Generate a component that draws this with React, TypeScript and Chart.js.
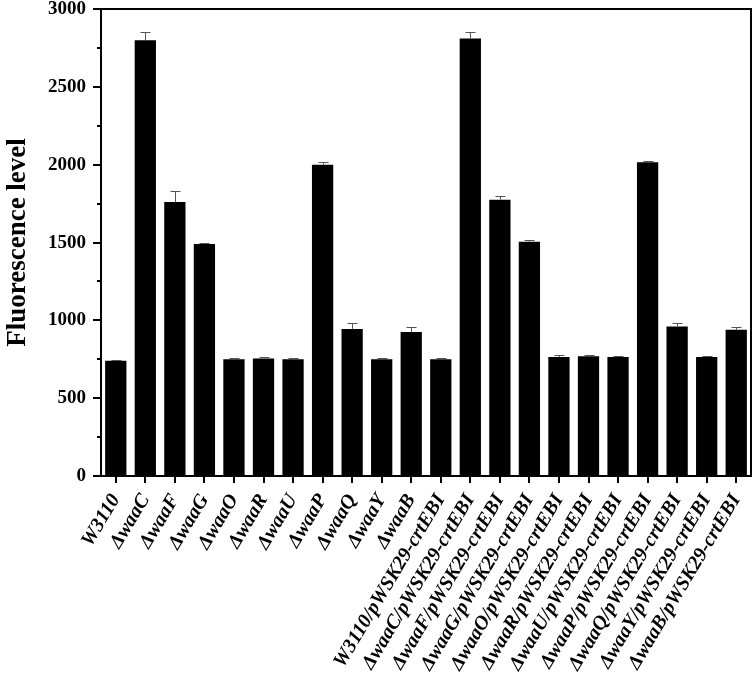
import React, { useEffect, useRef } from "react";
import { Chart, registerables } from "chart.js";

Chart.register(...registerables);

const categories = [
  "W3110", "ΔwaaC", "ΔwaaF", "ΔwaaG", "ΔwaaO", "ΔwaaR", "ΔwaaU", "ΔwaaP", "ΔwaaQ", "ΔwaaY", "ΔwaaB",
  "W3110/pWSK29-crtEBI", "ΔwaaC/pWSK29-crtEBI", "ΔwaaF/pWSK29-crtEBI", "ΔwaaG/pWSK29-crtEBI",
  "ΔwaaO/pWSK29-crtEBI", "ΔwaaR/pWSK29-crtEBI", "ΔwaaU/pWSK29-crtEBI", "ΔwaaP/pWSK29-crtEBI",
  "ΔwaaQ/pWSK29-crtEBI", "ΔwaaY/pWSK29-crtEBI", "ΔwaaB/pWSK29-crtEBI",
];
const values = [740, 2800, 1760, 1490, 750, 755, 750, 2000, 945, 750, 925, 750, 2810, 1775, 1505, 765, 770, 765, 2015, 960, 765, 940];
const errors = [8, 50, 70, 10, 6, 8, 10, 15, 40, 10, 35, 6, 40, 25, 12, 15, 10, 6, 6, 25, 6, 20];
const yTicks = [0, 500, 1000, 1500, 2000, 2500, 3000];
const yMinorTicks = [250, 750, 1250, 1750, 2250, 2750];
const yTitle = "Fluorescence level";

const FONT = "'Liberation Serif', 'Times New Roman', serif";

const framePlugin = {
  id: "frameAndErrors",
  afterDatasetsDraw(chart: any) {
    const { ctx, chartArea, scales } = chart;
    const x = scales.x;
    const y = scales.y;
    ctx.save();
    // error bars
    ctx.strokeStyle = "#555";
    ctx.lineWidth = 1;
    const meta = chart.getDatasetMeta(0);
    meta.data.forEach((bar: any, i: number) => {
      const top = y.getPixelForValue(values[i]);
      const up = Math.round(y.getPixelForValue(values[i] + errors[i])) + 0.5;
      const cx = Math.round(bar.x) + 0.5;
      ctx.beginPath();
      ctx.moveTo(cx, top);
      ctx.lineTo(cx, up);
      ctx.moveTo(cx - 5, up);
      ctx.lineTo(cx + 5, up);
      ctx.stroke();
    });
    // frame
    ctx.strokeStyle = "#000";
    ctx.lineWidth = 2;
    ctx.strokeRect(chartArea.left, chartArea.top, chartArea.right - chartArea.left, chartArea.bottom - chartArea.top);
    // y ticks and labels
    ctx.fillStyle = "#000";
    ctx.font = "bold 19px " + FONT;
    ctx.textAlign = "right";
    ctx.textBaseline = "middle";
    yTicks.forEach((v) => {
      const py = Math.round(y.getPixelForValue(v));
      ctx.beginPath();
      ctx.moveTo(chartArea.left, py);
      ctx.lineTo(chartArea.left - 8, py);
      ctx.stroke();
      ctx.fillText(String(v), chartArea.left - 15, py);
    });
    yMinorTicks.forEach((v) => {
      const py = Math.round(y.getPixelForValue(v));
      ctx.beginPath();
      ctx.moveTo(chartArea.left, py);
      ctx.lineTo(chartArea.left - 4, py);
      ctx.stroke();
    });
    // x ticks
    categories.forEach((_, i) => {
      const px = Math.round(x.getPixelForValue(i));
      ctx.beginPath();
      ctx.moveTo(px, chartArea.bottom);
      ctx.lineTo(px, chartArea.bottom + 7);
      ctx.stroke();
    });
    ctx.restore();
  },
};

export default function App() {
  const ref = useRef<HTMLCanvasElement>(null);
  useEffect(() => {
    document.body.style.margin = "0";
    const chart = new Chart(ref.current!, {
      type: "bar",
      data: {
        labels: categories,
        datasets: [
          {
            data: values,
            backgroundColor: "#000",
            borderColor: "#000",
            borderWidth: 0,
            barPercentage: 0.72,
            categoryPercentage: 1,
          },
        ],
      },
      plugins: [framePlugin],
      options: {
        animation: false,
        responsive: false,
        maintainAspectRatio: false,
        layout: { padding: { top: 9, right: 3, left: 0, bottom: 0 } },
        plugins: { legend: { display: false }, tooltip: { enabled: false } },
        scales: {
          x: {
            grid: { display: false },
            border: { display: false },
            ticks: {
              color: "#000",
              minRotation: 59,
              maxRotation: 59,
              autoSkip: false,
              padding: 6,
              font: { family: FONT, size: 20, weight: "bold", style: "italic" },
            },
            afterFit(scale: any) {
              scale.height = 197;
              scale.paddingRight = 0;
              scale.paddingLeft = 0;
            },
          },
          y: {
            min: 0,
            max: 3000,
            grid: { display: false },
            border: { display: false },
            ticks: { display: false, stepSize: 500 },
            title: {
              display: true,
              text: yTitle,
              color: "#000",
              padding: { top: 2, bottom: 0 },
              font: { family: FONT, size: 27, weight: "bold" },
            },
            afterFit(scale: any) {
              scale.width = 101;
            },
          },
        },
      },
    } as any);
    return () => chart.destroy();
  }, []);
  return (
    <div style={{ position: "absolute", left: 0, top: 0, width: 754, height: 673 }}>
      <canvas ref={ref} width={754} height={673} style={{ width: 754, height: 673 }} />
    </div>
  );
}
